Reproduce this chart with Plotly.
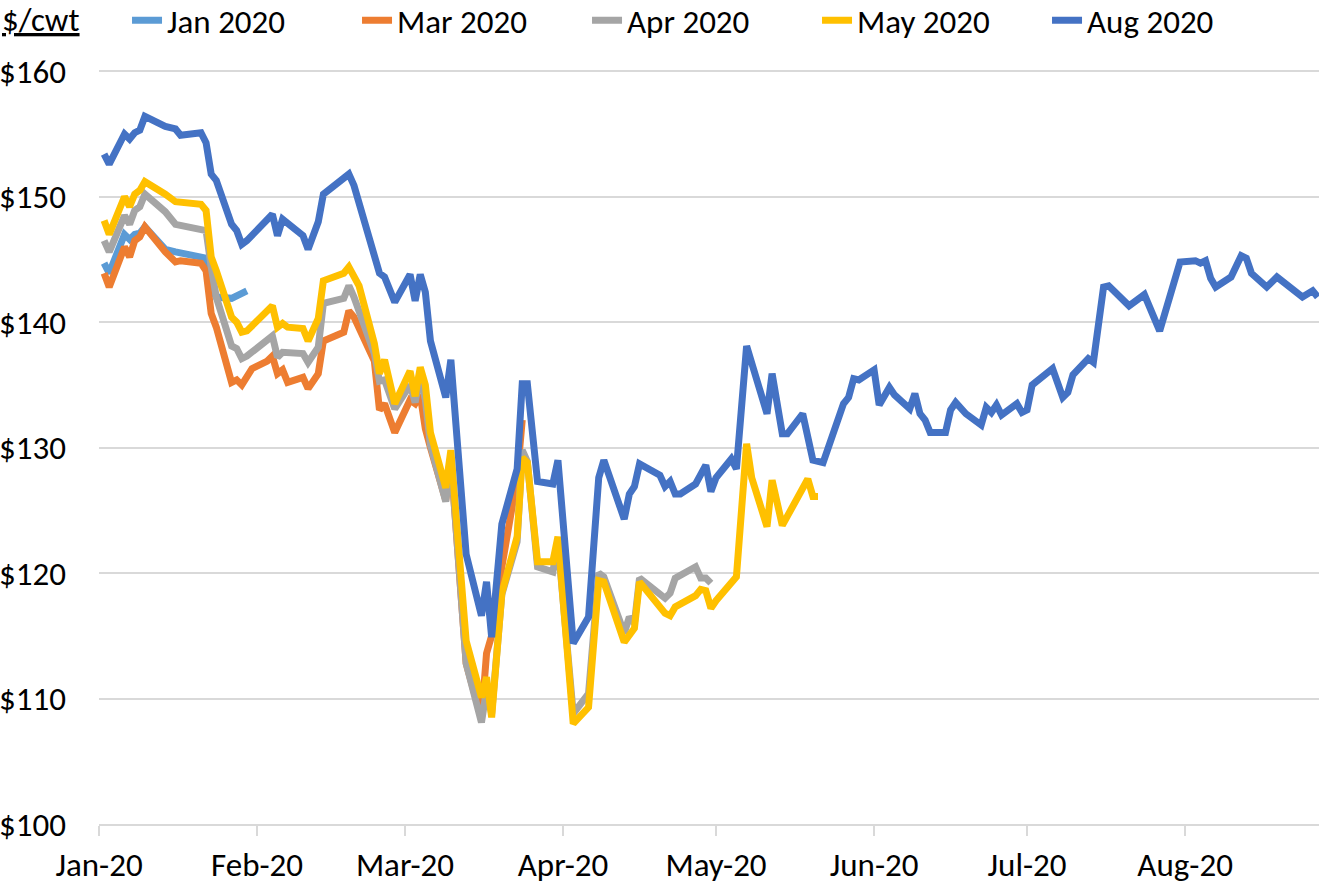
import plotly.graph_objects as go

# ---------------- data ----------------
jan_dates = ["01-02","01-03","01-06","01-07","01-08","01-09","01-10","01-13","01-14","01-16",
             "01-21","01-22","01-23","01-24","01-27","01-28","01-29","01-30"]
jan_vals = [144.7,143.9,147.0,146.6,147.0,147.1,147.6,146.2,145.8,145.6,
            145.3,145.1,142.8,142.0,141.9,142.1,142.2,142.5]

mar_dates = ["01-02","01-03","01-06","01-07","01-08","01-09","01-10","01-13","01-14","01-16",
             "01-17","01-21","01-22","01-23","01-24","01-27","01-28","01-29","01-31","02-03",
             "02-04","02-05","02-06","02-07","02-10","02-11","02-13","02-14","02-18","02-19",
             "02-20","02-24","02-25","02-26","02-28","03-02","03-03","03-04","03-05","03-06",
             "03-09","03-10","03-13","03-16","03-17","03-18","03-20","03-23","03-24"]
mar_vals = [143.9,142.8,146.0,145.2,146.5,146.8,147.6,146.0,145.6,144.8,
            144.9,144.7,144.1,140.7,139.6,135.2,135.4,135.0,136.3,136.9,
            137.3,135.9,136.2,135.2,135.6,134.7,135.9,138.5,139.2,140.9,
            140.4,136.9,133.0,133.5,131.2,133.8,133.5,134.2,131.5,130.0,
            125.8,129.1,112.8,108.4,113.6,115.0,120.5,127.6,132.2]

apr_dates = ["01-02","01-03","01-06","01-07","01-08","01-09","01-10","01-13","01-14","01-16",
             "01-21","01-22","01-23","01-24","01-27","01-28","01-29","01-30","02-04","02-05",
             "02-06","02-10","02-11","02-13","02-14","02-18","02-19","02-20","02-24","02-25",
             "02-26","02-28","03-02","03-03","03-04","03-05","03-06","03-09","03-10","03-13",
             "03-16","03-17","03-18","03-20","03-23","03-24","03-25","03-27","03-30","03-31",
             "04-03","04-06","04-08","04-09","04-13","04-14","04-15","04-16","04-21","04-22",
             "04-23","04-27","04-28","04-29","04-30"]
apr_vals = [146.5,145.6,148.5,147.8,148.9,149.2,150.2,149.2,148.8,147.8,
            147.5,147.3,144.4,142.0,138.1,137.9,137.1,137.3,138.9,137.2,
            137.6,137.5,136.8,138.0,141.5,141.9,142.9,142.0,137.5,135.3,
            135.4,133.1,135.0,133.6,135.8,133.8,130.2,125.7,129.2,112.8,
            108.1,110.7,108.8,118.3,122.5,129.8,128.9,120.5,120.1,122.4,
            108.8,110.4,120.0,119.7,115.2,116.5,116.0,119.6,118.0,118.4,
            119.6,120.5,119.6,119.6,119.2]

may_dates = ["01-02","01-03","01-06","01-07","01-08","01-09","01-10","01-13","01-14","01-16",
             "01-21","01-22","01-23","01-24","01-27","01-28","01-29","01-30","02-04","02-05",
             "02-06","02-07","02-10","02-11","02-13","02-14","02-18","02-19","02-21","02-24",
             "02-25","02-26","02-28","03-02","03-03","03-04","03-05","03-06","03-09","03-10",
             "03-13","03-16","03-17","03-18","03-20","03-23","03-24","03-25","03-27","03-30",
             "03-31","04-03","04-06","04-08","04-09","04-13","04-15","04-16","04-21","04-22",
             "04-23","04-27","04-28","04-29","04-30","05-01","05-05","05-07","05-08","05-11",
             "05-12","05-14","05-15","05-19","05-20","05-21"]
may_vals = [148.1,147.0,150.0,149.2,150.2,150.5,151.2,150.5,150.2,149.6,
            149.4,148.9,145.2,144.1,140.4,140.0,139.2,139.3,141.3,139.6,
            139.9,139.6,139.5,138.5,140.3,143.3,143.9,144.4,142.9,138.3,
            135.9,137.0,133.5,136.1,134.1,136.4,135.0,131.2,126.8,129.8,
            114.6,110.1,111.7,108.5,118.4,122.9,129.2,128.8,120.9,120.9,
            122.9,108.0,109.3,119.4,119.3,114.5,115.6,119.3,116.8,116.6,
            117.3,118.2,118.7,118.6,117.2,117.8,119.7,130.3,127.6,123.7,
            127.4,123.8,124.5,127.5,126.1,126.1]

aug_dates = ["01-02","01-03","01-06","01-07","01-08","01-09","01-10","01-13","01-14","01-16",
             "01-17","01-21","01-22","01-23","01-24","01-27","01-28","01-29","01-30","02-04",
             "02-05","02-06","02-10","02-11","02-13","02-14","02-19","02-20","02-25","02-26",
             "02-28","03-02","03-03","03-04","03-05","03-06","03-09","03-10","03-13","03-16",
             "03-17","03-18","03-20","03-23","03-24","03-25","03-27","03-30","03-31","04-03",
             "04-06","04-08","04-09","04-13","04-14","04-15","04-16","04-20","04-21","04-22",
             "04-23","04-24","04-27","04-29","04-30","05-01","05-04","05-05","05-07","05-11",
             "05-12","05-14","05-15","05-18","05-20","05-22","05-26","05-27","05-28","05-29",
             "06-01","06-02","06-04","06-05","06-08","06-09","06-10","06-11","06-12","06-15",
             "06-16","06-17","06-19","06-22","06-23","06-24","06-25","06-26","06-29","06-30",
             "07-01","07-02","07-06","07-08","07-09","07-10","07-13","07-14","07-16","07-17",
             "07-21","07-22","07-24","07-27","07-30","07-31","08-03","08-04","08-05","08-06",
             "08-07","08-10","08-12","08-13","08-14","08-17","08-19","08-21","08-24","08-26",
             "08-27"]
aug_vals = [153.4,152.6,155.0,154.6,155.1,155.3,156.4,155.8,155.6,155.4,
            154.9,155.1,154.3,151.8,151.3,147.8,147.3,146.2,146.5,148.6,
            146.9,148.2,146.9,145.8,148.0,150.2,151.8,150.9,143.9,143.6,
            141.6,143.8,141.7,143.8,142.4,138.5,134.0,137.0,121.5,116.6,
            119.3,114.9,123.9,128.3,135.1,135.1,127.3,127.1,129.0,114.4,
            116.5,127.6,129.0,124.3,126.3,126.9,128.7,127.8,126.9,127.3,
            126.3,126.3,127.1,128.6,126.5,127.6,129.1,128.3,138.1,132.7,
            135.9,131.1,131.1,132.7,129.0,128.8,133.5,134.0,135.5,135.4,
            136.2,133.4,134.8,134.2,133.1,134.3,132.7,132.2,131.2,131.2,
            133.0,133.6,132.7,131.8,133.2,132.8,133.4,132.6,133.5,132.8,
            133.0,135.0,136.3,134.0,134.4,135.8,137.1,136.8,142.8,142.9,
            141.3,141.6,142.2,139.3,143.1,144.8,144.9,144.7,144.9,143.5,
            142.8,143.6,145.3,145.1,143.9,142.8,143.6,142.9,142.0,142.5,
            142.0]

series_names = ["Jan 2020", "Mar 2020", "Apr 2020", "May 2020", "Aug 2020"]
series_dates = [jan_dates, mar_dates, apr_dates, may_dates, aug_dates]
series_vals = [jan_vals, mar_vals, apr_vals, may_vals, aug_vals]
series_colors = ["#5B9BD5", "#ED7D31", "#A5A5A5", "#FFC000", "#4472C4"]

y_ticks = [100, 110, 120, 130, 140, 150, 160]
y_tick_labels = ["$100", "$110", "$120", "$130", "$140", "$150", "$160"]

# ---------------- figure ----------------
FONT = "Carlito, 'Liberation Sans Narrow', 'DejaVu Sans Condensed', sans-serif"
FS = 33

fig = go.Figure()
for name, d, v, c in zip(series_names, series_dates, series_vals, series_colors):
    fig.add_trace(go.Scatter(
        x=["2020-" + s for s in d], y=v, name=name, mode="lines",
        line=dict(color=c, width=7),
    ))

fig.update_layout(
    width=1319, height=884,
    margin=dict(l=99, r=0, t=70, b=60, autoexpand=False),
    paper_bgcolor="white", plot_bgcolor="white",
    font=dict(family=FONT, size=FS, color="black"),
    showlegend=True,
    legend=dict(
        orientation="h", xref="container", yref="container",
        x=0.0963, y=0.977, xanchor="left", yanchor="middle",
        font=dict(family=FONT, size=FS, color="black"),
        entrywidth=185, entrywidthmode="pixels",
        bgcolor="rgba(0,0,0,0)", itemclick=False,
    ),
    xaxis=dict(
        type="date", range=["2020-01-01", "2020-08-27 06:00"],
        tick0="2020-01-01", dtick="M1", tickformat="%b-%y",
        showgrid=False, zeroline=False, automargin=False,
        showline=True, linecolor="#D9D9D9", linewidth=2,
        ticks="outside", ticklen=10, tickwidth=2, tickcolor="#D9D9D9",
        tickfont=dict(family=FONT, size=FS, color="black"),
    ),
    yaxis=dict(
        range=[100, 160.1], tickvals=y_ticks, ticktext=y_tick_labels,
        showgrid=True, gridcolor="#D9D9D9", gridwidth=2,
        zeroline=False, showline=False, ticks="", automargin=False,
        ticklabelstandoff=32,
        tickfont=dict(family=FONT, size=FS, color="black"),
    ),
    annotations=[dict(
        text="<u>$/cwt</u>", xref="paper", yref="paper",
        x=-99 / 1220, y=1 + 50 / 754, xanchor="left", yanchor="middle",
        showarrow=False, font=dict(family=FONT, size=FS, color="black"),
    )],
)

fig.write_html(
    "out.html",
    config={"displayModeBar": False},
    post_script="document.body.style.margin='0';document.body.style.padding='0';"
                "document.body.style.overflow='hidden';",
)
